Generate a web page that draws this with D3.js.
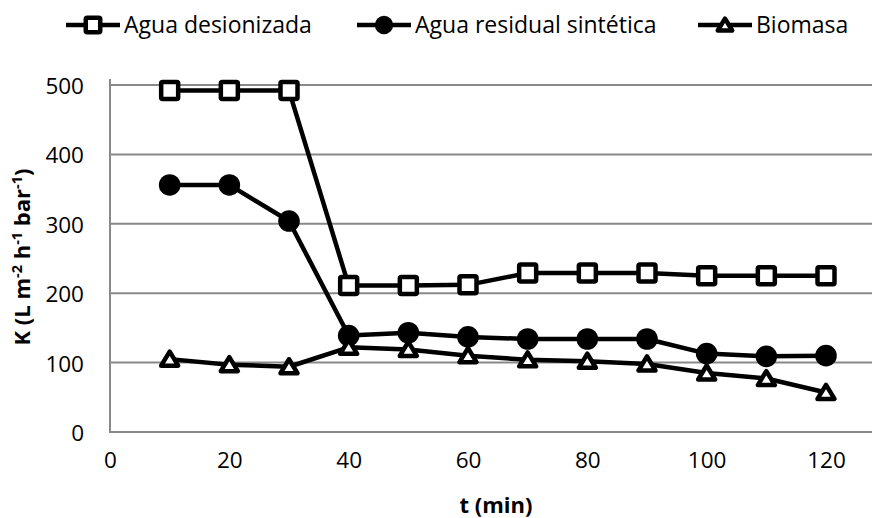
<!DOCTYPE html>
<html>
<head>
<meta charset="utf-8">
<script src="https://cdn.jsdelivr.net/npm/d3@7/dist/d3.min.js"></script>
<style>
  html, body { margin: 0; padding: 0; background: #fff; }
  svg { display: block; font-family: "Open Sans", sans-serif; }
</style>
</head>
<body>
<svg id="chart" width="872" height="518"></svg>
<script>
const times = [10, 20, 30, 40, 50, 60, 70, 80, 90, 100, 110, 120];
const aguaDesionizada = [492, 492, 492, 211, 211, 212, 229, 229, 229, 225, 225, 225];
const aguaResidual = [356, 356, 304, 139, 143, 137, 134, 134, 134, 113, 109, 110];
const biomasa = [105, 97, 94, 122, 119, 110, 104, 102, 98, 85, 77, 57];
const xTicks = [0, 20, 40, 60, 80, 100, 120];
const yTicks = [0, 100, 200, 300, 400, 500];
const seriesNames = ["Agua desionizada", "Agua residual sintética", "Biomasa"];

const svg = d3.select("#chart");
const x = d3.scaleLinear().domain([0, 120]).range([110, 826]);
const y = d3.scaleLinear().domain([0, 500]).range([432, 85]);
const plotRight = 872;
const gray = "#898989";

// gridlines
svg.append("g").selectAll("line").data(yTicks.filter(d => d > 0)).join("line")
  .attr("x1", x(0)).attr("x2", plotRight)
  .attr("y1", d => y(d)).attr("y2", d => y(d))
  .attr("stroke", gray).attr("stroke-width", 2);

// axes
const yAxis = svg.append("g").attr("transform", `translate(${x(0)},0)`)
  .call(d3.axisLeft(y).tickValues(yTicks).tickSize(0).tickPadding(26));
yAxis.select(".domain").remove();
yAxis.selectAll("text").attr("font-size", 22.5).attr("fill", "#000")
  .attr("font-family", "Open Sans, sans-serif").attr("dy", "0.38em");

const xAxis = svg.append("g").attr("transform", `translate(0,${y(0)})`)
  .call(d3.axisBottom(x).tickValues(xTicks).tickSize(0).tickPadding(20));
xAxis.select(".domain").remove();
xAxis.selectAll("text").attr("font-size", 22.5).attr("fill", "#000")
  .attr("font-family", "Open Sans, sans-serif");

svg.append("line").attr("x1", x(0)).attr("x2", x(0)).attr("y1", 79).attr("y2", y(0) + 1)
  .attr("stroke", gray).attr("stroke-width", 2);
svg.append("line").attr("x1", x(0) - 1).attr("x2", plotRight).attr("y1", y(0)).attr("y2", y(0))
  .attr("stroke", gray).attr("stroke-width", 2);

// axis titles
svg.append("text").attr("x", 496).attr("y", 513).attr("text-anchor", "middle")
  .attr("font-size", 22).attr("font-weight", "bold").text("t (min)");

const yt = svg.append("text").attr("transform", "translate(30,257) rotate(-90)")
  .attr("text-anchor", "middle").attr("font-size", 22).attr("font-weight", "bold");
yt.append("tspan").text("K (L m");
yt.append("tspan").attr("dy", -8).attr("font-size", 14.5).text("-2");
yt.append("tspan").attr("dy", 8).text(" h");
yt.append("tspan").attr("dy", -8).attr("font-size", 14.5).text("-1");
yt.append("tspan").attr("dy", 8).text(" bar");
yt.append("tspan").attr("dy", -8).attr("font-size", 14.5).text("-1");
yt.append("tspan").attr("dy", 8).text(")");

// markers
const lw = 4.5;
function drawMarker(g, type, cx, cy, s) {
  if (type === 0) {
    g.append("rect").attr("x", cx - 8.5 * s).attr("y", cy - 8.5 * s)
      .attr("width", 17 * s).attr("height", 17 * s).attr("rx", 1.5)
      .attr("fill", "#fff").attr("stroke", "#000").attr("stroke-width", lw);
  } else if (type === 1) {
    g.append("circle").attr("cx", cx).attr("cy", cy).attr("r", 10.8 * s).attr("fill", "#000");
  } else {
    const p = d3.path();
    p.moveTo(cx, cy - 7.5 * s); p.lineTo(cx + 8.5 * s, cy + 6.5 * s); p.lineTo(cx - 8.5 * s, cy + 6.5 * s); p.closePath();
    g.append("path").attr("d", p.toString()).attr("fill", "#fff").attr("stroke", "#000")
      .attr("stroke-width", lw).attr("stroke-linejoin", "round");
  }
}

const allSeries = [aguaDesionizada, aguaResidual, biomasa];
const line = d3.line().x(d => x(d[0])).y(d => y(d[1]));
allSeries.forEach((vals, i) => {
  const g = svg.append("g");
  const pts = times.map((t, j) => [t, vals[j]]);
  g.append("path").attr("d", line(pts)).attr("fill", "none").attr("stroke", "#000")
    .attr("stroke-width", lw).attr("stroke-linejoin", "round");
  pts.forEach(p => drawMarker(g, i, x(p[0]), y(p[1]), 1));
});

// legend
const legendX = [66, 357, 698];
const leg = svg.append("g");
seriesNames.forEach((name, i) => {
  const lx = legendX[i];
  leg.append("line").attr("x1", lx).attr("x2", lx + 54).attr("y1", 25).attr("y2", 25)
    .attr("stroke", "#000").attr("stroke-width", lw);
  drawMarker(leg, i, lx + 27, 25, 0.85);
  leg.append("text").attr("x", lx + 58).attr("y", 33).attr("font-size", 23).text(name);
});
</script>
</body>
</html>
